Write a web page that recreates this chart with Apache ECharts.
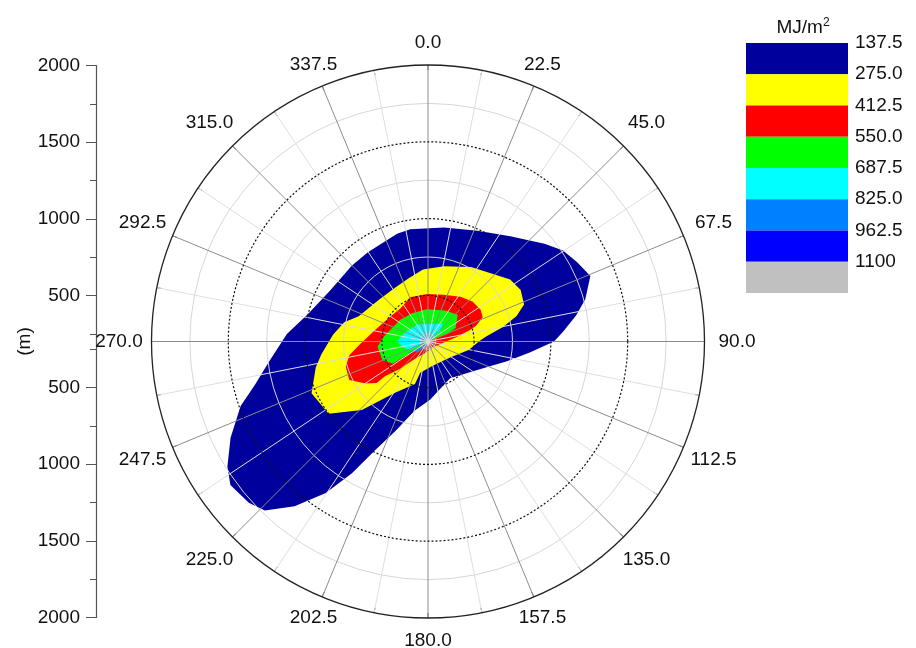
<!DOCTYPE html>
<html>
<head>
<meta charset="utf-8">
<script src="https://cdn.jsdelivr.net/npm/echarts@6/dist/echarts.min.js"></script>
<style>
  html, body { margin: 0; padding: 0; background: #fff; }
  #chart { width: 916px; height: 648px; }
</style>
</head>
<body>
<div id="chart"></div>
<script>
// 径向轴 (m)，圆心处为 200 m
const radialMin = 200
const radialMax = 2000
const radialMajor = [500, 1000, 1500, 2000]
const radialMinor = [250, 750, 1250, 1750]
const angleStep = 22.5

// 色标
const levelLabels = ['137.5', '275.0', '412.5', '550.0', '687.5', '825.0', '962.5', '1100']
const levelColors = ['#00009c', '#ffff00', '#ff0000', '#00ff00', '#00ffff', '#0080ff', '#0000ff', '#c0c0c0']

// 等值线边界 [方位角 deg, 距离 m]
const navyBand = [
  [351, 940], [8, 950], [24, 990], [38, 1070], [50, 1190], [56, 1260], [62, 1300], [68, 1340],
  [75, 1260], [80, 1180], [86, 1080], [90, 1020], [96, 870], [104, 730], [120, 570], [149, 480],
  [178, 580], [191, 660], [200, 820], [206, 990], [210, 1190], [214, 1390], [219, 1580], [224, 1730],
  [228, 1770], [234, 1790], [238, 1740], [244, 1630], [251, 1490], [256, 1360], [263, 1240],
  [273, 1120], [283, 1000], [297, 920], [315, 900], [326, 900], [344, 930]
]
const yellowBand = [
  [356, 670], [12, 700], [30, 760], [44, 810], [53, 870], [61, 890], [69, 870], [74, 800],
  [79, 700], [85, 580], [89, 540], [102, 470], [125, 380], [169, 360], [194, 410], [197, 490],
  [213, 600], [224, 820], [234, 1000], [246, 1030], [257, 950], [263, 900], [274, 820],
  [283, 760], [290, 680], [310, 620], [328, 610], [343, 630]
]
const redBand = [
  [338, 510], [359, 510], [18, 520], [36, 560], [48, 590], [59, 600], [66, 590], [72, 530],
  [75, 480], [81, 390], [92, 310], [138, 250], [195, 280], [217, 340], [226, 460], [231, 560],
  [231, 630], [236, 690], [244, 770], [253, 760], [260, 720], [268, 640], [283, 550], [306, 490],
  [320, 480]
]
const greenBand = [
  [332, 410], [358, 410], [29, 430], [48, 460], [64, 400], [69, 330], [66, 260], [210, 230],
  [231, 270], [237, 340], [238, 470], [248, 520], [264, 530], [276, 490], [308, 430]
]
const cyanBand = [
  [329, 330], [15, 320], [41, 350], [49, 300], [53, 220], [246, 260], [245, 330], [258, 370],
  [271, 400], [292, 360]
]
const royalBand = [[240, 350], [230, 230], [117, 220], [223, 290]]

const bands = [navyBand, yellowBand, redBand, greenBand, cyanBand, royalBand]

const FONT = 'Liberation Sans, Arial, sans-serif'
const POLAR_CENTER = [428, 341.5]
const POLAR_RADIUS = 276.5
// 角度标签居中放在圆环上：上下方向的离圆近一些，两侧的远一些
// 借大半径的极坐标让 echarts 全部居中对齐
const LABEL_RING_NEAR = 299
const LABEL_RING_FAR = 309
const LABEL_POLAR_RADIUS = 1200

const isNearVertical = v => Math.abs(Math.cos(v * Math.PI / 180)) > 0.9

// 左侧竖轴：上下对称，以 (距离 - 200) 为刻度值
const signed = list => list.flatMap(v => [v - radialMin, radialMin - v])

function labelAxis(polarIndex, ring, keep) {
  return {
    polarIndex,
    type: 'value',
    min: 0,
    max: 360,
    interval: angleStep,
    startAngle: 90,
    clockwise: true,
    z: 10,
    axisLine: { show: false },
    axisTick: { show: false },
    splitLine: { show: false },
    axisLabel: {
      margin: ring - LABEL_POLAR_RADIUS,
      fontSize: 19,
      color: '#111',
      formatter: v => (v >= 360 || !keep(v) ? '' : v.toFixed(1))
    }
  }
}

const chart = echarts.init(document.getElementById('chart'))

chart.setOption({
  animation: false,
  textStyle: { fontFamily: FONT },
  title: {
    text: '{a|MJ/m}{b|2}',
    left: 798,
    top: 12,
    textAlign: 'center',
    textStyle: {
      rich: {
        a: { fontSize: 19, fontWeight: 'normal', color: '#111', fontFamily: FONT },
        b: { fontSize: 12, fontWeight: 'normal', color: '#111', fontFamily: FONT, padding: [0, 0, 10, 0] }
      }
    }
  },
  polar: [
    { center: POLAR_CENTER, radius: POLAR_RADIUS },
    { center: POLAR_CENTER, radius: POLAR_RADIUS },
    { center: POLAR_CENTER, radius: LABEL_POLAR_RADIUS },
    { center: POLAR_CENTER, radius: LABEL_POLAR_RADIUS }
  ],
  angleAxis: [
    {
      polarIndex: 0,
      type: 'value',
      min: 0,
      max: 360,
      interval: angleStep,
      startAngle: 90,
      clockwise: true,
      z: 10,
      axisLine: { lineStyle: { color: '#222', width: 1.3 } },
      axisTick: { show: true, inside: true, length: 5, lineStyle: { color: '#555' } },
      minorTick: { show: true, splitNumber: 2, length: 5, lineStyle: { color: '#555' } },
      axisLabel: { show: false },
      splitLine: { show: true, lineStyle: { color: '#8c8c8c', width: 1 } },
      minorSplitLine: { show: true, lineStyle: { color: '#dedede', width: 1 } }
    },
    { polarIndex: 1, type: 'value', min: 0, max: 360, show: false },
    labelAxis(2, LABEL_RING_NEAR, v => isNearVertical(v)),
    labelAxis(3, LABEL_RING_FAR, v => !isNearVertical(v))
  ],
  radiusAxis: [
    {
      polarIndex: 0,
      type: 'value',
      min: radialMin,
      max: radialMax,
      z: 9,
      axisLine: { show: false },
      axisLabel: { show: false },
      axisTick: { show: false, customValues: radialMinor },
      splitLine: { show: true, lineStyle: { color: '#d6d6d6', width: 1 } }
    },
    {
      polarIndex: 1,
      type: 'value',
      min: radialMin,
      max: radialMax,
      z: 11,
      axisLine: { show: false },
      axisLabel: { show: false },
      axisTick: { show: false, customValues: radialMajor.filter(v => v < radialMax) },
      splitLine: { show: true, lineStyle: { color: '#111', width: 1.2, type: [2, 2] } }
    },
    { polarIndex: 2, type: 'value', min: radialMin, max: radialMax, show: false },
    { polarIndex: 3, type: 'value', min: radialMin, max: radialMax, show: false }
  ],
  grid: [
    { left: 96, top: 65.5, width: 20, height: 552 },
    { left: 746, top: 43, width: 102, height: 250 }
  ],
  xAxis: [
    { gridIndex: 0, type: 'value', min: 0, max: 1, show: false },
    { gridIndex: 1, type: 'value', min: 0, max: 1, show: false }
  ],
  yAxis: [
    {
      gridIndex: 0,
      type: 'value',
      min: radialMin - radialMax,
      max: radialMax - radialMin,
      position: 'left',
      name: '(m)',
      nameLocation: 'middle',
      nameGap: 60,
      nameTextStyle: { fontSize: 19, color: '#111' },
      axisLine: { show: true, lineStyle: { color: '#555', width: 1.2 } },
      axisTick: { show: true, length: 10, customValues: signed(radialMajor), lineStyle: { color: '#555' } },
      axisLabel: {
        customValues: signed(radialMajor),
        formatter: v => String(Math.abs(v) + radialMin),
        fontSize: 19,
        color: '#111',
        margin: 16
      },
      splitLine: { show: false }
    },
    {
      gridIndex: 0,
      type: 'value',
      min: radialMin - radialMax,
      max: radialMax - radialMin,
      position: 'left',
      axisLine: { show: false },
      axisTick: { show: true, length: 6, customValues: signed(radialMinor), lineStyle: { color: '#555' } },
      axisLabel: { show: false },
      splitLine: { show: false }
    },
    {
      gridIndex: 1,
      type: 'value',
      min: 0,
      max: levelLabels.length,
      inverse: true,
      position: 'right',
      axisLine: { show: false },
      axisTick: { show: false },
      axisLabel: {
        customValues: levelLabels.map((_, i) => i),
        formatter: v => levelLabels[v],
        fontSize: 19,
        color: '#111',
        margin: 7,
        padding: [4, 0, 0, 0]
      },
      splitLine: { show: false }
    }
  ],
  series: [
    {
      type: 'custom',
      coordinateSystem: 'polar',
      polarIndex: 0,
      silent: true,
      z: 2,
      data: bands.map(() => [radialMin, 0]),
      renderItem(params, api) {
        const band = bands[params.dataIndex]
        return {
          type: 'polygon',
          shape: { points: band.map(p => api.coord([p[1], p[0]])) },
          style: { fill: levelColors[params.dataIndex] }
        }
      }
    },
    {
      type: 'custom',
      coordinateSystem: 'cartesian2d',
      xAxisIndex: 1,
      yAxisIndex: 2,
      silent: true,
      data: levelColors.map((c, i) => [0, i]),
      renderItem(params, api) {
        const i = params.dataIndex
        const a = api.coord([0, i])
        const b = api.coord([1, i + 1])
        return {
          type: 'rect',
          shape: { x: a[0], y: Math.min(a[1], b[1]), width: b[0] - a[0], height: Math.abs(b[1] - a[1]) },
          style: { fill: levelColors[i] }
        }
      }
    }
  ]
})
</script>
</body>
</html>
